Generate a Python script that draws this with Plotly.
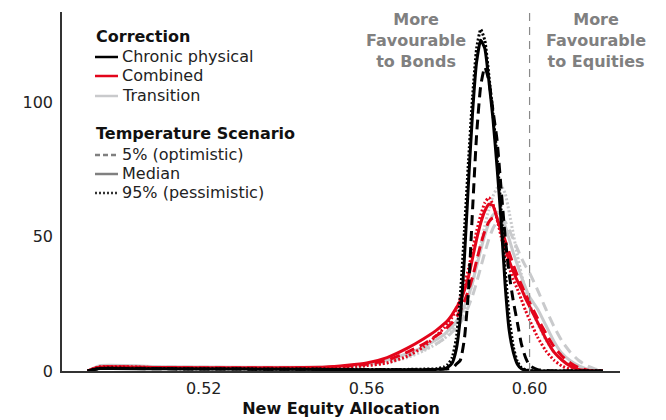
import plotly.graph_objects as go

# ---- data ----
allocation_grid = [0.4915, 0.4945, 0.51, 0.53, 0.55, 0.56, 0.565, 0.570, 0.574, 0.577,
                   0.579, 0.580, 0.581, 0.582, 0.583, 0.584, 0.585, 0.586, 0.587, 0.588,
                   0.589, 0.590, 0.591, 0.592, 0.593, 0.594, 0.595, 0.596, 0.597, 0.598,
                   0.599, 0.600, 0.602, 0.604, 0.606, 0.608, 0.610, 0.612, 0.614, 0.616, 0.618]

chronic_p5 = [0, 0.9, 0.8, 0.7, 0.6, 0.5, 0.5, 0.5, 0.5, 0.6,
              0.7, 0.8, 1.0, 2.5, 4, 12, 30, 60, 88, 106,
              113, 108, 97, 86, 68, 50, 36, 26, 18, 10,
              5, 2, 0.5, 0.2, 0, 0, 0, 0, 0, 0, 0]
chronic_med = [0, 0.9, 0.8, 0.7, 0.6, 0.5, 0.5, 0.5, 0.5, 0.6,
               0.8, 1.5, 3, 8, 20, 42, 70, 96, 115, 123,
               120, 108, 94, 76, 56, 32, 15, 7, 2.5, 0.8,
               0.3, 0.1, 0, 0, 0, 0, 0, 0, 0, 0, 0]
chronic_p95 = [0, 1.0, 0.9, 0.8, 0.7, 0.6, 0.6, 0.6, 0.7, 0.8,
               1.5, 2.5, 5, 12, 28, 52, 78, 102, 120, 127,
               123, 110, 96, 80, 60, 38, 20, 9, 3.5, 1.2,
               0.5, 0.2, 0, 0, 0, 0, 0, 0, 0, 0, 0]

combined_p5 = [0, 1.4, 1.2, 1.1, 1.3, 2.5, 4, 7, 10, 13,
               15, 16.5, 18, 20, 22.5, 26, 30, 35, 41, 47,
               52, 55.5, 57, 56, 53, 48.5, 44, 39.5, 35.5, 32,
               28.5, 25.5, 19.5, 14, 9, 5.5, 3, 1.3, 0.4, 0, 0]
combined_med = [0, 1.5, 1.3, 1.2, 1.5, 3, 5, 8.5, 12, 15,
                17.5, 19, 21, 23.5, 26, 30, 35, 42, 49, 55,
                59.5, 62, 61.5, 57, 52, 46.5, 41, 37, 33.5, 30.5,
                27, 24, 18, 12, 7, 4, 1.8, 0.6, 0.2, 0, 0]
combined_p95 = [0, 1.6, 1.2, 1.0, 1.2, 2, 3, 5.5, 9, 13,
                16, 18, 20, 23, 27, 32, 38, 45, 52, 58,
                62.5, 64.5, 62, 56.5, 50, 44, 38.5, 34, 30.5, 26.5,
                22.5, 19, 12.5, 7.5, 4, 1.8, 0.6, 0.2, 0, 0, 0]

transition_p5 = [0, 1.8, 1.5, 1.3, 1.4, 2.3, 3.5, 5.5, 8, 10,
                 12, 13, 14.5, 16, 18, 20.5, 24, 28, 33, 38.5,
                 44, 49, 53, 55.5, 56.5, 55.5, 52.5, 49, 45.5, 42,
                 39, 36.5, 30, 23, 16.5, 11, 7, 4, 2, 0.8, 0.2]
transition_med = [0, 2.0, 1.6, 1.4, 1.5, 2.5, 4, 6.5, 9, 11.5,
                  13.5, 15, 16.5, 18.5, 21, 24, 28, 33, 39, 45,
                  50.5, 55, 58, 59, 58, 54, 49, 44, 39.5, 35,
                  31, 27.5, 23, 17, 11, 6.5, 3.8, 2, 0.8, 0.2, 0]
transition_p95 = [0, 1.8, 1.4, 1.2, 1.2, 2, 3, 5, 7.5, 10,
                  12, 13.5, 15, 17, 19.5, 23, 27.5, 33, 40, 47,
                  54, 60, 65, 68, 69, 66, 59, 51, 43, 36,
                  30, 25, 17.5, 11.5, 7, 4, 2.2, 1.1, 0.5, 0.1, 0]

current_allocation = 0.60
x_ticks = [0.52, 0.56, 0.60]
x_tick_labels = ["0.52", "0.56", "0.60"]
y_ticks = [0, 50, 100]

# ---- styling ----
FONT = "DejaVu Sans, Liberation Sans, Arial, sans-serif"
BLACK = "#000000"
RED = "#e3051b"
GREY = "#c9cacc"
DASH = "10px,6px"
DOT = "2px,2px"

W, H = 666, 420
ML, MR, MT, MB = 62, 46, 12, 49
PW, PH = W - ML - MR, H - MT - MB

def px_x(px):
    return (px - ML) / PW

def px_y(py):
    return 1 - (py - MT) / PH

fig = go.Figure()

series = [
    (transition_p5, GREY, DASH), (transition_med, GREY, "solid"), (transition_p95, GREY, DOT),
    (combined_p5, RED, DASH), (combined_med, RED, "solid"), (combined_p95, RED, DOT),
    (chronic_p5, BLACK, DASH), (chronic_med, BLACK, "solid"), (chronic_p95, BLACK, DOT),
]
for ys, col, dash in series:
    fig.add_trace(go.Scatter(
        x=allocation_grid, y=ys, mode="lines",
        line=dict(color=col, width=3, dash=dash, shape="spline", smoothing=0.5),
        showlegend=False, hoverinfo="skip"))

# reference vertical line
fig.add_shape(type="line", xref="x", yref="paper", x0=current_allocation, x1=current_allocation,
              y0=0, y1=1, line=dict(color="#8a8a8a", width=1.2, dash="8px,6px"))

# region labels
fig.add_annotation(x=0.572, xref="x", y=px_y(40), yref="paper", yanchor="middle",
                   text="More<br>Favourable<br>to Bonds", showarrow=False,
                   font=dict(family=FONT, size=16, color="#808080", weight="bold"))
fig.add_annotation(x=0.6164, xref="x", y=px_y(40), yref="paper", yanchor="middle",
                   text="More<br>Favourable<br>to Equities", showarrow=False,
                   font=dict(family=FONT, size=16, color="#808080", weight="bold"))

# custom legend
legend_rows = [
    ("Correction", None, None, 36),
    ("Chronic physical", BLACK, "solid", 56),
    ("Combined", RED, "solid", 75),
    ("Transition", GREY, "solid", 95),
    ("Temperature Scenario", None, None, 133),
    ("5% (optimistic)", "#808080", "5px,3px", 154),
    ("Median", "#808080", "solid", 173),
    ("95% (pessimistic)", "#333333", "2px,2px", 192),
]
for text, col, dash, py in legend_rows:
    if col is None:
        fig.add_annotation(x=px_x(94), y=px_y(py), xref="paper", yref="paper",
                           xanchor="left", yanchor="middle", text=text, showarrow=False,
                           font=dict(family=FONT, size=16, color="#111111", weight="bold"))
    else:
        fig.add_shape(type="line", xref="paper", yref="paper",
                      x0=px_x(95), x1=px_x(118), y0=px_y(py + 1), y1=px_y(py + 1),
                      line=dict(color=col, width=2.5, dash=dash))
        fig.add_annotation(x=px_x(120), y=px_y(py), xref="paper", yref="paper",
                           xanchor="left", yanchor="middle", text=text, showarrow=False,
                           font=dict(family=FONT, size=16, color="#222222"))

fig.update_layout(
    width=W, height=H,
    margin=dict(l=ML, r=MR, t=MT, b=MB),
    paper_bgcolor="white", plot_bgcolor="white",
    font=dict(family=FONT, size=16, color="#222222"),
    xaxis=dict(range=[0.4852, 0.6222], tickvals=x_ticks, ticktext=x_tick_labels,
               showgrid=False, zeroline=False, showline=True, linecolor="#333333",
               linewidth=1.5, ticks="", ticklabelstandoff=2, automargin=False,
               tickfont=dict(size=16, color="#222222"),
               title=dict(text="New Equity Allocation", standoff=6,
                          font=dict(size=16, color="#111111", weight="bold"))),
    yaxis=dict(range=[0, 133.5], tickvals=y_ticks, showgrid=False, zeroline=False,
               showline=True, linecolor="#333333", linewidth=1.5, ticks="",
               automargin=False, ticklabelstandoff=4,
               tickfont=dict(size=16, color="#222222")),
)

fig.write_html("out.html")
